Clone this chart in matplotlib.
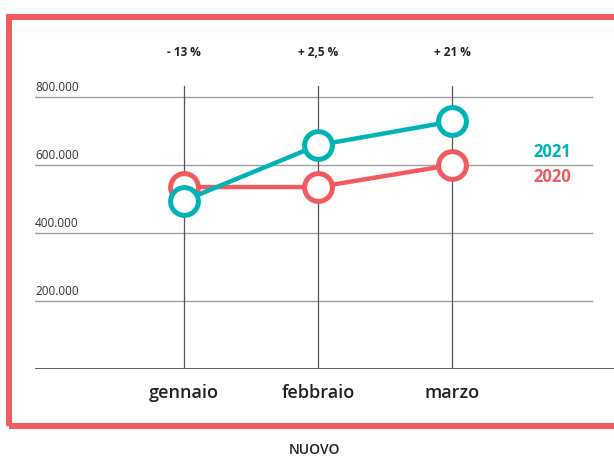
import matplotlib.pyplot as plt
from matplotlib.patches import Rectangle
from matplotlib.transforms import blended_transform_factory

months = ["gennaio", "febbraio", "marzo"]
changes = ["- 13 %", "+ 2,5 %", "+ 21 %"]
sales_2020 = [535000, 535000, 600000]
sales_2021 = [495000, 658000, 728000]
y_ticks = [200000, 400000, 600000, 800000]
y_labels = ["200.000", "400.000", "600.000", "800.000"]

RED = "#f15b5f"
TEAL = "#00b3b6"
W, H = 614, 458


def px(x, y):
    # pixel coordinates (from top-left) to figure fraction
    return x / W, 1 - y / H


def main():
    plt.rcParams['font.family'] = ['Open Sans', 'DejaVu Sans']
    fig = plt.figure(figsize=(W / 100, H / 100), dpi=100)

    # axes box: x 35..614 px, y 86..369 px
    left, bottom = px(35, 369)
    ax = fig.add_axes([left, bottom, (614 - 35) / W, (369 - 86) / H])
    ax.set_xlim(-1.112, 3.209)
    ax.set_ylim(0, 832000)
    for s in ax.spines.values():
        s.set_visible(False)
    ax.set_yticks([])

    # grid
    for v in y_ticks:
        ax.axhline(v, xmin=0, xmax=0.962, color="#a0a0a0", lw=1, zorder=1)
    ax.axhline(0, color="#333333", lw=1.8, zorder=1)
    for i in range(len(months)):
        ax.axvline(i, color="#555555", lw=0.9, zorder=1)

    ytr = blended_transform_factory(ax.transAxes, ax.transData)
    for v, lab in zip(y_ticks, y_labels):
        ax.text(0.0, v + 9000, lab, transform=ytr, fontsize=8.5,
                color="#333333", ha="left", va="bottom")

    xs = range(len(months))
    ax.plot(xs, sales_2020, color=RED, lw=3.2, marker="o", ms=20,
            mfc="white", mec=RED, mew=3.6, zorder=3, clip_on=False)
    ax.plot(xs, sales_2021, color=TEAL, lw=3.2, marker="o", ms=20,
            mfc="white", mec=TEAL, mew=3.6, zorder=4, clip_on=False)

    ax.text(2.75, 638000, "2021", color=TEAL, fontsize=12,
            fontweight="bold", ha="center", va="center")
    ax.text(2.75, 565000, "2020", color=RED, fontsize=12,
            fontweight="bold", ha="center", va="center")

    xtr = blended_transform_factory(ax.transData, ax.transAxes)
    for i, c in enumerate(changes):
        ax.text(i, 1.12, c, transform=xtr, fontsize=8.5, fontweight="bold",
                color="#222222", ha="center", va="center")

    ax.set_xticks(list(xs))
    ax.set_xticklabels(months, fontsize=13, fontweight="semibold", color="#222222")
    ax.tick_params(axis="x", length=0, pad=11)

    # red frame
    x0, y0 = px(9, 426)
    fig.patches.append(Rectangle((x0, y0), 1.2, (426 - 17) / H,
                                 transform=fig.transFigure, fill=False,
                                 edgecolor=RED, lw=4.3))

    fig.text(*px(314, 450), "NUOVO", fontsize=10, fontweight="semibold",
             color="#222222", ha="center", va="center")

    fig.savefig("out.png", dpi=100)


if __name__ == '__main__':
    main()
